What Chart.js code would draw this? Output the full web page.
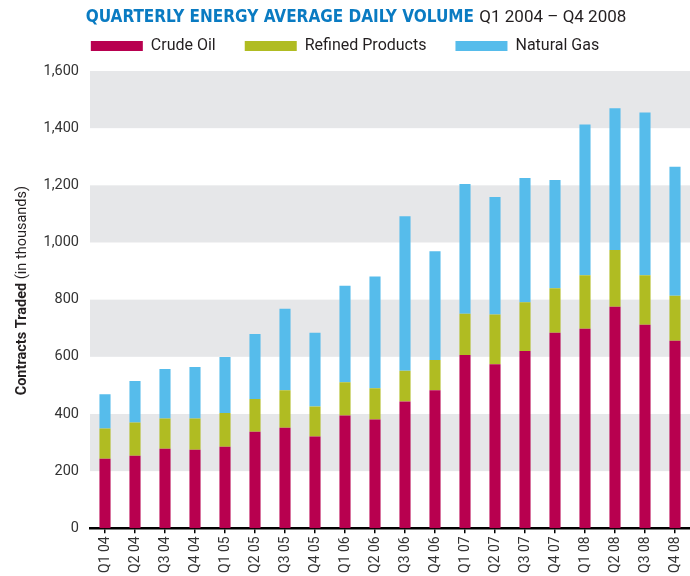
<!DOCTYPE html>
<html>
<head>
<meta charset="utf-8">
<script src="https://cdn.jsdelivr.net/npm/chart.js@4"></script>
<style>
html, body { margin: 0; padding: 0; background: #fff; }
</style>
</head>
<body>
<canvas id="myChart" width="690" height="576"></canvas>
<script>
var quarters = ['Q1 04', 'Q2 04', 'Q3 04', 'Q4 04', 'Q1 05', 'Q2 05', 'Q3 05', 'Q4 05',
    'Q1 06', 'Q2 06', 'Q3 06', 'Q4 06', 'Q1 07', 'Q2 07', 'Q3 07', 'Q4 07',
    'Q1 08', 'Q2 08', 'Q3 08', 'Q4 08'];
var crudeOil = [243, 254, 278, 275, 285, 338, 352, 321, 395, 381, 444, 483, 606, 574, 620, 684, 698, 775, 712, 656];
var refinedProducts = [106, 116, 106, 109, 118, 114, 131, 105, 116, 109, 107, 106, 145, 174, 171, 156, 187, 199, 173, 158];
var naturalGas = [120, 145, 173, 180, 196, 228, 285, 258, 338, 391, 541, 380, 454, 411, 435, 379, 528, 496, 570, 451];
var yTicks = [0, 200, 400, 600, 800, 1000, 1200, 1400, 1600];

var titleBold = 'QUARTERLY ENERGY AVERAGE DAILY VOLUME';
var titleRest = 'Q1 2004 \u2013 Q4 2008';
var yTitleBold = 'Contracts Traded';
var yTitleRest = '(in thousands)';

// grey bands behind every other 200 step
var bandPlugin = {
    id: 'bands',
    beforeDatasetsDraw: function (chart) {
        var ctx = chart.ctx, y = chart.scales.y, area = chart.chartArea;
        ctx.save();
        ctx.fillStyle = '#e6e7e9';
        for (var i = 1; i < yTicks.length - 1; i += 2) {
            var top = y.getPixelForValue(yTicks[i + 1]);
            var bottom = y.getPixelForValue(yTicks[i]);
            ctx.fillRect(area.left, top, area.right - area.left, bottom - top);
        }
        ctx.restore();
    }
};

// two-style title and axis title
var textPlugin = {
    id: 'texts',
    afterDraw: function (chart) {
        var ctx = chart.ctx, area = chart.chartArea;
        ctx.save();
        ctx.textBaseline = 'middle';
        ctx.textAlign = 'left';
        var boldFont = 'bold 17px "Liberation Sans Narrow", "DejaVu Sans Condensed", Roboto';
        var normFont = '17px Roboto';
        ctx.font = boldFont;
        var w1 = ctx.measureText(titleBold + ' ').width;
        ctx.font = normFont;
        var w2 = ctx.measureText(titleRest).width;
        var x = 356 - (w1 + w2) / 2;
        ctx.font = boldFont;
        ctx.fillStyle = '#0a7bc2';
        ctx.fillText(titleBold + ' ', x, 18);
        ctx.font = normFont;
        ctx.fillStyle = '#231f20';
        ctx.fillText(titleRest, x + w1, 18);

        ctx.translate(22, (area.top + area.bottom) / 2 - 9);
        ctx.rotate(-Math.PI / 2);
        ctx.font = 'bold 14.5px Roboto';
        var a = ctx.measureText(yTitleBold + ' ').width;
        ctx.font = '14.5px Roboto';
        var b = ctx.measureText(yTitleRest).width;
        ctx.font = 'bold 14.5px Roboto';
        ctx.fillText(yTitleBold + ' ', -(a + b) / 2, 0);
        ctx.font = '14.5px Roboto';
        ctx.fillText(yTitleRest, -(a + b) / 2 + a, 0);
        ctx.restore();
    }
};

var ctx = document.getElementById('myChart').getContext('2d');
var myChart = new Chart(ctx, {
    type: 'bar',
    data: {
        labels: quarters,
        datasets: [{
            label: 'Crude Oil',
            data: crudeOil,
            backgroundColor: '#b8004f'
        }, {
            label: 'Refined Products',
            data: refinedProducts,
            backgroundColor: '#b0bc22'
        }, {
            label: 'Natural Gas',
            data: naturalGas,
            backgroundColor: '#56bceb'
        }]
    },
    options: {
        responsive: false,
        animation: false,
        layout: { padding: { top: 9, bottom: 0, right: 0, left: 0 } },
        datasets: {
            bar: { barPercentage: 0.37, categoryPercentage: 1 }
        },
        plugins: {
            title: { display: false },
            // thin spacer between legend and plot
            subtitle: {
                display: true, text: ' ', weight: 500,
                font: { size: 1, lineHeight: 1 },
                padding: { top: 0, bottom: 6 }
            },
            tooltip: { enabled: false },
            legend: {
                position: 'top',
                labels: {
                    boxWidth: 52,
                    boxHeight: 10,
                    padding: 29,
                    color: '#231f20',
                    font: { family: 'Roboto', size: 16 }
                }
            }
        },
        scales: {
            x: {
                stacked: true,
                afterFit: function (scale) { scale.paddingRight = 0; scale.paddingLeft = 0; },
                grid: { display: true, offset: false, drawOnChartArea: false, tickLength: 5, color: '#000', lineWidth: 1.5 },
                border: { display: true, color: '#000', width: 2.5 },
                ticks: {
                    minRotation: 90, maxRotation: 90, padding: 3,
                    color: '#333', font: { family: 'Roboto', size: 14 }
                }
            },
            y: {
                stacked: true,
                min: 0,
                max: 1600,
                afterFit: function (scale) { scale.width = 90; },
                grid: { display: false, drawTicks: false },
                border: { display: false },
                ticks: {
                    stepSize: 200, padding: 11,
                    color: '#333', font: { family: 'Roboto', size: 14.5 }
                }
            }
        }
    },
    plugins: [bandPlugin, textPlugin]
});
</script>
</body>
</html>
